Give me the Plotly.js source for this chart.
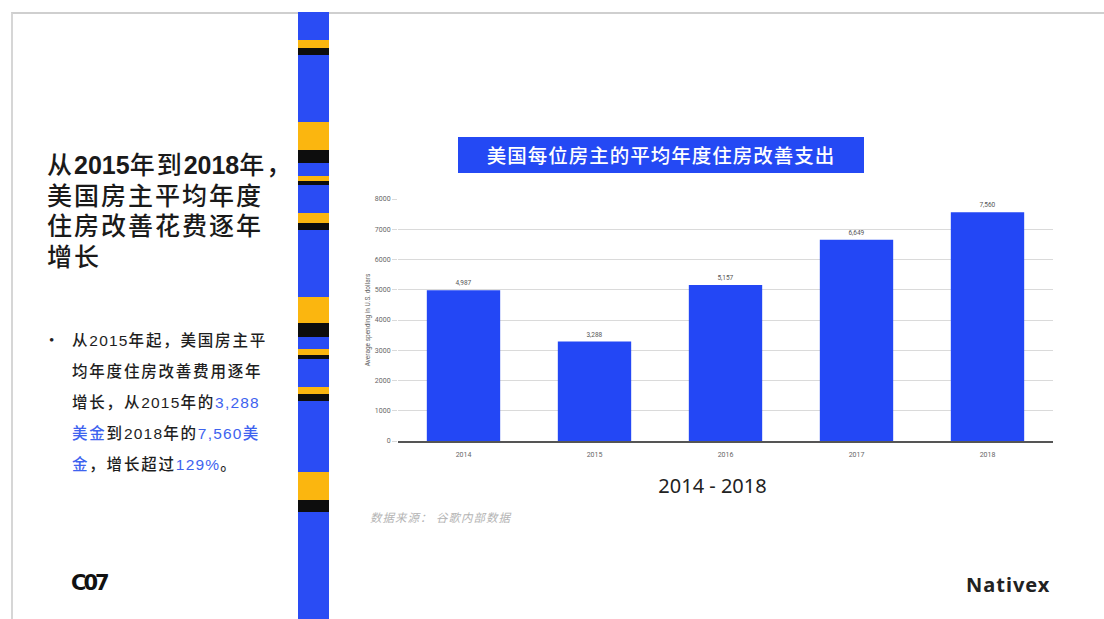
<!DOCTYPE html>
<html>
<head>
<meta charset="utf-8">
<script src="https://cdn.plot.ly/plotly-3.0.1.min.js"></script>
<style>
  html, body { margin:0; padding:0; background:#fff; width:1104px; height:619px; overflow:hidden; }
  #chart { position:absolute; left:0; top:0; width:1104px; height:619px; }
  .abs { position:absolute; }
  .cjk { font-family:"Noto Sans CJK SC","Noto Sans",sans-serif; }
  .mix { font-family:"Liberation Sans","Noto Sans CJK SC",sans-serif; }
  .num { letter-spacing:0px; font-weight:bold; }
  #frame { left:11px; top:12px; width:1093px; height:607px; border-top:2px solid #cfcfcf; border-left:2px solid #d6d6d6; box-sizing:border-box; }
  #heading { left:47px; top:150px; font-size:25px; line-height:30.5px; color:#1a1a1a; font-weight:500; letter-spacing:2px; white-space:nowrap; }
  #bullet { left:49px; top:325px; font-size:15px; line-height:31px; color:#222; }
  #body { left:72px; top:325px; font-size:15.5px; line-height:31px; color:#1e1e1e; font-weight:500; letter-spacing:1.8px; white-space:nowrap; }
  #body .num { letter-spacing:1.2px; font-weight:normal; }
  .hl { color:#3e63ef; }
  #titlebox { left:458px; top:137px; width:406px; height:36px; background:#2449f4; color:#fff; font-size:19.5px; line-height:36px; text-align:center; letter-spacing:1px; font-weight:500; }
  #range { left:640px; top:472px; width:145px; text-align:center; font-family:"Noto Sans",sans-serif; font-size:20px; line-height:28px; color:#222; }
  #source { left:370px; top:508px; font-size:11.5px; line-height:18px; color:#b4b4b4; font-style:italic; letter-spacing:1px; white-space:nowrap; }
  #logo1 { left:71px; top:569px; font-family:"DejaVu Sans","Noto Sans",sans-serif; font-weight:bold; font-size:21px; line-height:28px; letter-spacing:-3px; color:#111; }
  #logo2 { left:966px; top:571px; font-family:"Noto Sans",sans-serif; font-weight:bold; font-size:20px; line-height:28px; color:#222; letter-spacing:1px; }
</style>
</head>
<body>
<div id="chart"></div>
<div id="frame" class="abs"></div>
<div id="stripe" class="abs" style="left:298px;top:12px;width:31px;height:607px;"></div>

<div id="heading" class="abs mix">从<span class="num">2015</span>年到<span class="num">2018</span>年，<br>美国房主平均年度<br>住房改善花费逐年<br>增长</div>
<div id="bullet" class="abs">•</div>
<div id="body" class="abs mix">从<span class="num">2015</span>年起，美国房主平<br>均年度住房改善费用逐年<br>增长，从<span class="num">2015</span>年的<span class="hl num">3,288</span><br><span class="hl">美金</span>到<span class="num">2018</span>年的<span class="hl num">7,560</span><span class="hl">美</span><br><span class="hl">金</span>，增长超过<span class="hl num">129%</span>。</div>

<div id="titlebox" class="abs cjk">美国每位房主的平均年度住房改善支出</div>
<div id="range" class="abs">2014 - 2018</div>
<div id="source" class="abs cjk">数据来源：  谷歌内部数据</div>
<div id="logo1" class="abs">C07</div>
<div id="logo2" class="abs">Nativex</div>

<script>
// ---- data ----
const years = ['2014', '2015', '2016', '2017', '2018'];
const spending = [4987, 3288, 5157, 6649, 7560];
const yTickValues = [0, 1000, 2000, 3000, 4000, 5000, 6000, 7000, 8000];
const yAxisTitle = 'Average spending in U.S. dollars';

// ---- decorative stripe ----
(function () {
  const segs = [
    ['b', 12, 40], ['y', 40, 48], ['k', 48, 55], ['b', 55, 122], ['y', 122, 150], ['k', 150, 163],
    ['b', 163, 176], ['y', 176, 181], ['k', 181, 185], ['b', 185, 213], ['y', 213, 223], ['k', 223, 230],
    ['b', 230, 297], ['y', 297, 323], ['k', 323, 337], ['b', 337, 349], ['y', 349, 355], ['k', 355, 359],
    ['b', 359, 387], ['y', 387, 394], ['k', 394, 401], ['b', 401, 472], ['y', 472, 500], ['k', 500, 512],
    ['b', 512, 619]
  ];
  const col = { b: '#2a4cf4', y: '#fbb60f', k: '#0d0d0d' };
  const s = document.getElementById('stripe');
  segs.forEach(function (g) {
    const d = document.createElement('div');
    d.style.position = 'absolute';
    d.style.left = '0px';
    d.style.width = '31px';
    d.style.top = (g[1] - 12) + 'px';
    d.style.height = (g[2] - g[1]) + 'px';
    d.style.background = col[g[0]];
    s.appendChild(d);
  });
})();

// ---- chart ----
const trace = {
  type: 'bar',
  x: years,
  y: spending,
  marker: { color: '#2347f5' },
  text: spending.map(function (v) { return v.toLocaleString('en-US'); }),
  textposition: 'outside',
  textfont: { family: 'Roboto, sans-serif', size: 6.5, color: '#555' },
  cliponaxis: false,
  hoverinfo: 'none'
};

const layout = {
  width: 1104,
  height: 619,
  margin: { l: 398, r: 51, t: 199, b: 178, pad: 0 },
  paper_bgcolor: 'rgba(0,0,0,0)',
  plot_bgcolor: 'rgba(0,0,0,0)',
  showlegend: false,
  bargap: 0.44,
  font: { family: 'Roboto, sans-serif', color: '#666' },
  xaxis: {
    type: 'category',
    showgrid: false,
    showline: true,
    linecolor: '#555',
    linewidth: 2,
    ticks: '',
    ticklabelstandoff: 6,
    tickfont: { size: 7, color: '#666' },
    fixedrange: true
  },
  yaxis: {
    range: [0, 8000],
    tickvals: yTickValues,
    tickformat: 'd',
    showgrid: true,
    gridcolor: '#dadada',
    gridwidth: 1,
    zeroline: false,
    ticks: 'outside',
    ticklen: 5,
    tickcolor: '#dadada',
    tickfont: { size: 7, color: '#666' },
    title: { text: yAxisTitle, font: { size: 6.5, color: '#666' }, standoff: 3 },
    fixedrange: true
  }
};

Plotly.newPlot('chart', [trace], layout, { displayModeBar: false, staticPlot: true });
</script>
</body>
</html>
